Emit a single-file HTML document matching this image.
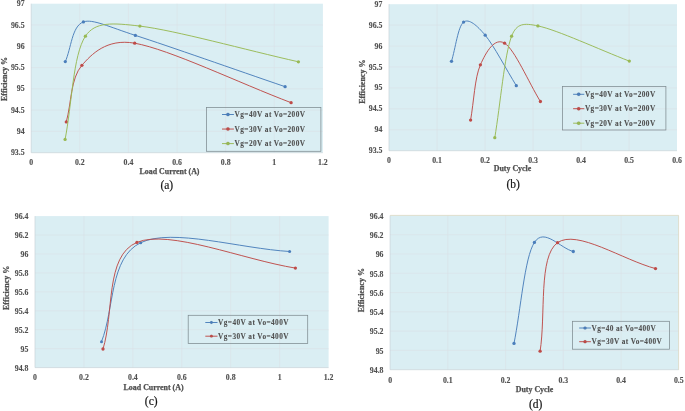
<!DOCTYPE html>
<html lang="en">
<head>
<meta charset="utf-8">
<title>Efficiency curves</title>
<style>
html,body{margin:0;padding:0;background:#fff;}
body{width:685px;height:411px;overflow:hidden;}
svg{display:block;will-change:transform;font-family:"Liberation Serif","Times New Roman",serif;}
</style>
</head>
<body>
<svg width="685" height="411" viewBox="0 0 685 411">
<rect width="685" height="411" fill="#ffffff"/>
<g>
<rect x="31.2" y="3.7" width="291.7" height="149" fill="#DAEEF3"/>
<path d="M79.82,3.7 V152.7 M128.43,3.7 V152.7 M177.05,3.7 V152.7 M225.67,3.7 V152.7 M274.28,3.7 V152.7 M31.2,24.99 H322.9 M31.2,46.27 H322.9 M31.2,67.56 H322.9 M31.2,88.84 H322.9 M31.2,110.13 H322.9 M31.2,131.41 H322.9" stroke="#DBE0E5" stroke-width="0.55" fill="none"/>
<path d="M31.2,3.7 V152.7 H322.9" stroke="#C9D3D8" stroke-width="0.7" fill="none"/>
<g font-weight="bold" font-size="7.8" fill="#505050" stroke="#505050" stroke-width="0.12">
<g text-anchor="end">
<text x="24.6" y="6.22">97</text>
<text x="24.6" y="27.51">96.5</text>
<text x="24.6" y="48.79">96</text>
<text x="24.6" y="70.08">95.5</text>
<text x="24.6" y="91.36">95</text>
<text x="24.6" y="112.65">94.5</text>
<text x="24.6" y="133.93">94</text>
<text x="24.6" y="155.22">93.5</text>
</g>
<g text-anchor="middle">
<text x="31.2" y="164.8">0</text>
<text x="79.82" y="164.8">0.2</text>
<text x="128.43" y="164.8">0.4</text>
<text x="177.05" y="164.8">0.6</text>
<text x="225.67" y="164.8">0.8</text>
<text x="274.28" y="164.8">1</text>
<text x="322.9" y="164.8">1.2</text>
<text x="169.5" y="173.55" font-size="8.0" stroke-width="0.25" textLength="60" lengthAdjust="spacingAndGlyphs">Load Current (A)</text>
<text transform="translate(7.4,79) rotate(-90)" font-size="8.0" stroke-width="0.25">Efficiency %</text>
</g>
</g>
<path d="M65.3,61.6 C71.33,48.37 71.72,26.27 83.4,21.9 C92.29,18.58 109.83,27.18 135.4,35.4 C169.02,46.2 235.2,69.6 285.1,86.7" stroke="#4A7EBB" stroke-width="0.95" fill="none" stroke-linejoin="round" stroke-linecap="round"/>
<circle cx="65.3" cy="61.6" r="1.65" fill="#4A7EBB"/>
<circle cx="83.4" cy="21.9" r="1.65" fill="#4A7EBB"/>
<circle cx="135.4" cy="35.4" r="1.65" fill="#4A7EBB"/>
<circle cx="285.1" cy="86.7" r="1.65" fill="#4A7EBB"/>
<path d="M66.3,121.9 C71.5,103.03 70.5,78.42 81.9,65.3 C91.11,54.7 106.53,38.16 134.7,43.2 C169.57,49.43 238.97,82.87 291.1,102.7" stroke="#BE4B48" stroke-width="0.95" fill="none" stroke-linejoin="round" stroke-linecap="round"/>
<circle cx="66.3" cy="121.9" r="1.65" fill="#BE4B48"/>
<circle cx="81.9" cy="65.3" r="1.65" fill="#BE4B48"/>
<circle cx="134.7" cy="43.2" r="1.65" fill="#BE4B48"/>
<circle cx="291.1" cy="102.7" r="1.65" fill="#BE4B48"/>
<path d="M65.1,139.4 C71.87,105 72.93,55.08 85.4,36.2 C95.06,21.56 112.38,22.79 139.9,26.1 C175.4,30.37 245.57,49.9 298.4,61.8" stroke="#98B954" stroke-width="0.95" fill="none" stroke-linejoin="round" stroke-linecap="round"/>
<circle cx="65.1" cy="139.4" r="1.65" fill="#98B954"/>
<circle cx="85.4" cy="36.2" r="1.65" fill="#98B954"/>
<circle cx="139.9" cy="26.1" r="1.65" fill="#98B954"/>
<circle cx="298.4" cy="61.8" r="1.65" fill="#98B954"/>
<rect x="206.6" y="107.5" width="114.3" height="43.8" fill="none" stroke="#7E8B90" stroke-width="0.75"/>
<g font-weight="bold" font-size="7.3" fill="#505050" stroke="#505050" stroke-width="0.08">
<path d="M222,114.5 H233.9" stroke="#4A7EBB" stroke-width="0.95"/>
<circle cx="227.95" cy="114.5" r="1.75" fill="#4A7EBB"/>
<text x="234.6" y="117.25" textLength="70.4" lengthAdjust="spacing">Vg=40V at Vo=200V</text>
<path d="M222,129.05 H233.9" stroke="#BE4B48" stroke-width="0.95"/>
<circle cx="227.95" cy="129.05" r="1.75" fill="#BE4B48"/>
<text x="234.6" y="131.8" textLength="70.4" lengthAdjust="spacing">Vg=30V at Vo=200V</text>
<path d="M222,143.6 H233.9" stroke="#98B954" stroke-width="0.95"/>
<circle cx="227.95" cy="143.6" r="1.75" fill="#98B954"/>
<text x="234.6" y="146.35" textLength="70.4" lengthAdjust="spacing">Vg=20V at Vo=200V</text>
</g>
<text x="166.8" y="188.7" text-anchor="middle" font-size="11.5" fill="#141414" stroke="#141414" stroke-width="0.18">(a)</text>
</g>
<g>
<rect x="389" y="4.2" width="288" height="146.5" fill="#DAEEF3"/>
<path d="M437,4.2 V150.7 M485,4.2 V150.7 M533,4.2 V150.7 M581,4.2 V150.7 M629,4.2 V150.7 M389,25.13 H677 M389,46.06 H677 M389,66.99 H677 M389,87.91 H677 M389,108.84 H677 M389,129.77 H677" stroke="#DBE0E5" stroke-width="0.55" fill="none"/>
<path d="M389,4.2 V150.7 H677" stroke="#C9D3D8" stroke-width="0.7" fill="none"/>
<g font-weight="bold" font-size="7.8" fill="#505050" stroke="#505050" stroke-width="0.12">
<g text-anchor="end">
<text x="382.4" y="6.72">97</text>
<text x="382.4" y="27.65">96.5</text>
<text x="382.4" y="48.58">96</text>
<text x="382.4" y="69.51">95.5</text>
<text x="382.4" y="90.43">95</text>
<text x="382.4" y="111.36">94.5</text>
<text x="382.4" y="132.29">94</text>
<text x="382.4" y="153.22">93.5</text>
</g>
<g text-anchor="middle">
<text x="389" y="163">0</text>
<text x="437" y="163">0.1</text>
<text x="485" y="163">0.2</text>
<text x="533" y="163">0.3</text>
<text x="581" y="163">0.4</text>
<text x="629" y="163">0.5</text>
<text x="677" y="163">0.6</text>
<text x="512.5" y="170.55" font-size="8.0" stroke-width="0.25" textLength="37.5" lengthAdjust="spacingAndGlyphs">Duty Cycle</text>
<text transform="translate(365.1,81.7) rotate(-90)" font-size="8.0" stroke-width="0.25">Efficiency %</text>
</g>
</g>
<path d="M451.5,61.3 C455.53,48.23 457.98,26.45 463.6,22.1 C468.75,18.11 477.14,25.47 485.2,35.2 C493.98,45.8 505.93,68.87 516.3,85.7" stroke="#4A7EBB" stroke-width="0.95" fill="none" stroke-linejoin="round" stroke-linecap="round"/>
<circle cx="451.5" cy="61.3" r="1.65" fill="#4A7EBB"/>
<circle cx="463.6" cy="22.1" r="1.65" fill="#4A7EBB"/>
<circle cx="485.2" cy="35.2" r="1.65" fill="#4A7EBB"/>
<circle cx="516.3" cy="85.7" r="1.65" fill="#4A7EBB"/>
<path d="M470.6,120.1 C473.87,101.67 474.73,77.62 480.4,64.8 C486.07,51.98 494.6,37.08 504.6,43.2 C514.6,49.32 528.47,82.07 540.4,101.5" stroke="#BE4B48" stroke-width="0.95" fill="none" stroke-linejoin="round" stroke-linecap="round"/>
<circle cx="470.6" cy="120.1" r="1.65" fill="#BE4B48"/>
<circle cx="480.4" cy="64.8" r="1.65" fill="#BE4B48"/>
<circle cx="504.6" cy="43.2" r="1.65" fill="#BE4B48"/>
<circle cx="540.4" cy="101.5" r="1.65" fill="#BE4B48"/>
<path d="M494.8,137.7 C500.4,103.87 504.42,54.83 511.6,36.2 C516.68,23.02 524.08,22.98 537.9,25.9 C557.52,30.05 598.83,49.37 629.3,61.1" stroke="#98B954" stroke-width="0.95" fill="none" stroke-linejoin="round" stroke-linecap="round"/>
<circle cx="494.8" cy="137.7" r="1.65" fill="#98B954"/>
<circle cx="511.6" cy="36.2" r="1.65" fill="#98B954"/>
<circle cx="537.9" cy="25.9" r="1.65" fill="#98B954"/>
<circle cx="629.3" cy="61.1" r="1.65" fill="#98B954"/>
<rect x="562.5" y="86.6" width="103.4" height="43.4" fill="none" stroke="#7E8B90" stroke-width="0.75"/>
<g font-weight="bold" font-size="7.3" fill="#505050" stroke="#505050" stroke-width="0.08">
<path d="M573.1,94.3 H584.3" stroke="#4A7EBB" stroke-width="0.95"/>
<circle cx="578.7" cy="94.3" r="1.75" fill="#4A7EBB"/>
<text x="584.9" y="97.05" textLength="70.3" lengthAdjust="spacing">Vg=40V at Vo=200V</text>
<path d="M573.1,108.7 H584.3" stroke="#BE4B48" stroke-width="0.95"/>
<circle cx="578.7" cy="108.7" r="1.75" fill="#BE4B48"/>
<text x="584.9" y="111.45" textLength="70.3" lengthAdjust="spacing">Vg=30V at Vo=200V</text>
<path d="M573.1,123.2 H584.3" stroke="#98B954" stroke-width="0.95"/>
<circle cx="578.7" cy="123.2" r="1.75" fill="#98B954"/>
<text x="584.9" y="125.95" textLength="70.3" lengthAdjust="spacing">Vg=20V at Vo=200V</text>
</g>
<text x="513.1" y="187.6" text-anchor="middle" font-size="11.5" fill="#141414" stroke="#141414" stroke-width="0.18">(b)</text>
</g>
<g>
<rect x="35" y="216.1" width="293.6" height="151.5" fill="#DAEEF3"/>
<path d="M83.93,216.1 V367.6 M132.87,216.1 V367.6 M181.8,216.1 V367.6 M230.73,216.1 V367.6 M279.67,216.1 V367.6 M35,235.04 H328.6 M35,253.97 H328.6 M35,272.91 H328.6 M35,291.85 H328.6 M35,310.79 H328.6 M35,329.73 H328.6 M35,348.66 H328.6" stroke="#DBE0E5" stroke-width="0.55" fill="none"/>
<path d="M35,216.1 V367.6 H328.6" stroke="#C9D3D8" stroke-width="0.7" fill="none"/>
<g font-weight="bold" font-size="7.8" fill="#505050" stroke="#505050" stroke-width="0.12">
<g text-anchor="end">
<text x="28.4" y="219.12">96.4</text>
<text x="28.4" y="238.06">96.2</text>
<text x="28.4" y="257">96</text>
<text x="28.4" y="275.93">95.8</text>
<text x="28.4" y="294.87">95.6</text>
<text x="28.4" y="313.81">95.4</text>
<text x="28.4" y="332.75">95.2</text>
<text x="28.4" y="351.68">95</text>
<text x="28.4" y="370.62">94.8</text>
</g>
<g text-anchor="middle">
<text x="35" y="379.55">0</text>
<text x="83.93" y="379.55">0.2</text>
<text x="132.87" y="379.55">0.4</text>
<text x="181.8" y="379.55">0.6</text>
<text x="230.73" y="379.55">0.8</text>
<text x="279.67" y="379.55">1</text>
<text x="328.6" y="379.55">1.2</text>
<text x="153.6" y="389.95" font-size="8.0" stroke-width="0.25" textLength="60" lengthAdjust="spacingAndGlyphs">Load Current (A)</text>
<text transform="translate(9.3,287.9) rotate(-90)" font-size="8.0" stroke-width="0.25">Efficiency %</text>
</g>
</g>
<path d="M101.5,341.7 C114.57,308.7 109.35,257.73 140.7,242.7 C172.05,227.67 239.97,248.57 289.6,251.5" stroke="#4A7EBB" stroke-width="0.95" fill="none" stroke-linejoin="round" stroke-linecap="round"/>
<circle cx="101.5" cy="341.7" r="1.5" fill="#4A7EBB"/>
<circle cx="140.7" cy="242.7" r="1.5" fill="#4A7EBB"/>
<circle cx="289.6" cy="251.5" r="1.5" fill="#4A7EBB"/>
<path d="M103,349 C114.3,313.47 104.83,255.88 136.9,242.4 C168.97,228.92 242.57,259.53 295.4,268.1" stroke="#BE4B48" stroke-width="0.95" fill="none" stroke-linejoin="round" stroke-linecap="round"/>
<circle cx="103" cy="349" r="1.65" fill="#BE4B48"/>
<circle cx="136.9" cy="242.4" r="1.65" fill="#BE4B48"/>
<circle cx="295.4" cy="268.1" r="1.65" fill="#BE4B48"/>
<rect x="188.2" y="315.3" width="119.5" height="28.3" fill="none" stroke="#7E8B90" stroke-width="0.75"/>
<g font-weight="bold" font-size="7.3" fill="#505050" stroke="#505050" stroke-width="0.08">
<path d="M205.3,322.5 H217.5" stroke="#4A7EBB" stroke-width="0.95"/>
<circle cx="211.4" cy="322.5" r="1.4" fill="#4A7EBB"/>
<text x="218.1" y="325.25" textLength="70.4" lengthAdjust="spacing">Vg=40V at Vo=400V</text>
<path d="M205.3,336.2 H217.5" stroke="#BE4B48" stroke-width="0.95"/>
<circle cx="211.4" cy="336.2" r="1.4" fill="#BE4B48"/>
<text x="218.1" y="338.95" textLength="70.4" lengthAdjust="spacing">Vg=30V at Vo=400V</text>
</g>
<text x="151.2" y="405.1" text-anchor="middle" font-size="11.5" fill="#141414" stroke="#141414" stroke-width="0.18">(c)</text>
</g>
<g>
<rect x="390.1" y="215.4" width="288.7" height="154.3" fill="#DAEEF3"/>
<path d="M447.84,215.4 V369.7 M505.58,215.4 V369.7 M563.32,215.4 V369.7 M621.06,215.4 V369.7 M390.1,234.69 H678.8 M390.1,253.97 H678.8 M390.1,273.26 H678.8 M390.1,292.55 H678.8 M390.1,311.84 H678.8 M390.1,331.12 H678.8 M390.1,350.41 H678.8" stroke="#DBE0E5" stroke-width="0.55" fill="none"/>
<path d="M390.1,215.4 V369.7 H678.8" stroke="#C9D3D8" stroke-width="0.7" fill="none"/>
<path d="M390.1,215.4 H678.6 V369.7" stroke="#DDD9C3" stroke-width="0.8" fill="none"/>
<g font-weight="bold" font-size="7.8" fill="#505050" stroke="#505050" stroke-width="0.12">
<g text-anchor="end">
<text x="383.5" y="218.72">96.4</text>
<text x="383.5" y="238.01">96.2</text>
<text x="383.5" y="257.3">96</text>
<text x="383.5" y="276.58">95.8</text>
<text x="383.5" y="295.87">95.6</text>
<text x="383.5" y="315.16">95.4</text>
<text x="383.5" y="334.44">95.2</text>
<text x="383.5" y="353.73">95</text>
<text x="383.5" y="373.02">94.8</text>
</g>
<g text-anchor="middle">
<text x="390.1" y="382.5">0</text>
<text x="447.84" y="382.5">0.1</text>
<text x="505.58" y="382.5">0.2</text>
<text x="563.32" y="382.5">0.3</text>
<text x="621.06" y="382.5">0.4</text>
<text x="678.8" y="382.5">0.5</text>
<text x="534.5" y="391.65" font-size="8.0" stroke-width="0.25" textLength="37.5" lengthAdjust="spacingAndGlyphs">Duty Cycle</text>
<text transform="translate(364.2,290.2) rotate(-90)" font-size="8.0" stroke-width="0.25">Efficiency %</text>
</g>
</g>
<path d="M514,343.4 C520.8,309.73 524.52,257.72 534.4,242.4 C544.28,227.08 560.33,248.47 573.3,251.5" stroke="#4A7EBB" stroke-width="0.95" fill="none" stroke-linejoin="round" stroke-linecap="round"/>
<circle cx="514" cy="343.4" r="1.65" fill="#4A7EBB"/>
<circle cx="534.4" cy="242.4" r="1.65" fill="#4A7EBB"/>
<circle cx="573.3" cy="251.5" r="1.65" fill="#4A7EBB"/>
<path d="M540.1,351.2 C545.9,315.03 538.27,256.47 557.5,242.7 C576.73,228.93 622.83,259.97 655.5,268.6" stroke="#BE4B48" stroke-width="0.95" fill="none" stroke-linejoin="round" stroke-linecap="round"/>
<circle cx="540.1" cy="351.2" r="1.65" fill="#BE4B48"/>
<circle cx="557.5" cy="242.7" r="1.65" fill="#BE4B48"/>
<circle cx="655.5" cy="268.6" r="1.65" fill="#BE4B48"/>
<rect x="572.4" y="321.3" width="97.2" height="27.9" fill="none" stroke="#7E8B90" stroke-width="0.75"/>
<g font-weight="bold" font-size="7.3" fill="#505050" stroke="#505050" stroke-width="0.08">
<path d="M579.2,328 H590.9" stroke="#4A7EBB" stroke-width="0.95"/>
<circle cx="585.05" cy="328" r="1.6" fill="#4A7EBB"/>
<text x="591.6" y="330.75" textLength="64.2" lengthAdjust="spacing">Vg=40 at Vo=400V</text>
<path d="M579.2,341.7 H590.9" stroke="#BE4B48" stroke-width="0.95"/>
<circle cx="585.05" cy="341.7" r="1.6" fill="#BE4B48"/>
<text x="591.6" y="344.45" textLength="70.2" lengthAdjust="spacing">Vg=30V at Vo=400V</text>
</g>
<text x="535.6" y="407.5" text-anchor="middle" font-size="11.5" fill="#141414" stroke="#141414" stroke-width="0.18">(d)</text>
</g>
</svg>
</body>
</html>
